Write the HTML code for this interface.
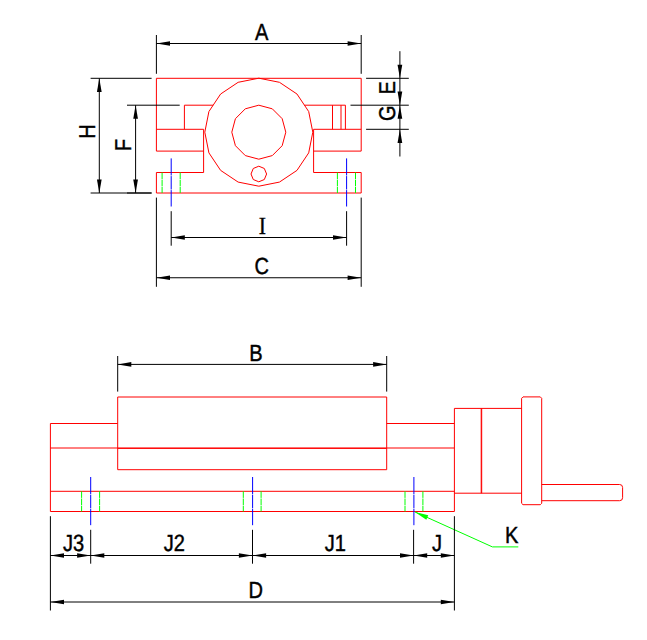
<!DOCTYPE html>
<html><head><meta charset="utf-8"><title>Vise dimensions</title>
<style>html,body{margin:0;padding:0;background:#fff;font-family:"Liberation Sans",sans-serif;}svg{display:block}</style>
</head><body>
<svg width="647" height="640" viewBox="0 0 647 640">
<rect width="647" height="640" fill="#fff"/>
<g fill="none" stroke="#ff0000" stroke-width="1">
<path d="M156.4,151.1V78.3H361.2V151.1M156.4,172.5V193.0H361.2V172.5M213.14,105.2H184.4V129.3M156.4,129.3H203.6V172.5H156.4M156.4,151.1H203.6M304.46,105.2H345.4M332.5,105.2V129.3M341.0,105.2V129.3M345.4,105.2V129.3M361.2,129.3H313.6V172.5H361.2M361.2,151.1H313.6M117.7,397.0H386.7V469.7H117.7ZM117.7,423.5H50.4V511.5H454.4M386.7,423.5H454.4M50.4,448.0H454.4M117.7,448.4H386.7M50.4,491.3H454.4M454.4,408.4V511.5M454.4,408.4H521.7M454.4,493.2H521.7M481.2,408.4V493.2M481.7,408.4V493.2M523.0,396.9H540.3000000000001L541.7,398.29999999999995V503.3L540.3000000000001,504.7H523.0L521.6,503.3V398.29999999999995ZM541.7,484.5H619.6Q622.6,484.5 622.6,487.5V497.7Q622.6,500.7 619.6,500.7H541.7"/>
<polygon points="258.80,78.20 279.46,82.31 296.98,94.02 308.69,111.54 312.80,132.20 308.69,152.86 296.98,170.38 279.46,182.09 258.80,186.20 238.14,182.09 220.62,170.38 208.91,152.86 204.80,132.20 208.91,111.54 220.62,94.02 238.14,82.31"/>
<polygon points="258.80,105.20 272.30,108.82 282.18,118.70 285.80,132.20 282.18,145.70 272.30,155.58 258.80,159.20 245.30,155.58 235.42,145.70 231.80,132.20 235.42,118.70 245.30,108.82"/>
<polygon points="258.80,166.20 264.32,168.48 266.60,174.00 264.32,179.52 258.80,181.80 253.28,179.52 251.00,174.00 253.28,168.48"/>
</g>
<path d="M162.1,172.5V193.0M180.2,172.5V193.0M337.40000000000003,172.5V193.0M355.5,172.5V193.0M81.6,491.3V511.5M99.6,491.3V511.5M243.3,491.3V511.5M261.1,491.3V511.5M405,491.3V511.5M422.9,491.3V511.5" fill="none" stroke="#00ff00" stroke-width="1" stroke-dasharray="6.6 0.6"/>
<path d="M171.2,158.4V206.5M346.6,158.4V206.5M90.7,477.0V525.2M252.6,477.0V525.2M413.9,477.0V525.2" fill="none" stroke="#0000ff" stroke-width="1" stroke-dasharray="17.1 0.6 13.4 0.6 17.5 100"/>
<path d="M414.9,511.9L492.4,546.9H518.3" stroke="#00ff00" fill="none" stroke-width="1"/><polygon points="414.90,511.90 428.26,515.36 426.33,519.64" fill="#00ff00"/>
<path d="M156.4,35V73.8M361.2,35V73.8M156.4,43.5H361.2M156.4,197.6V286.8M361.2,197.6V286.8M156.4,277.75H361.2M171.2,211.2V245.7M346.6,211.2V245.7M171.2,237.5H346.6M90.6,78.3H151.6M90.6,193.0H151.6M99.3,78.3V193.0M127,105.2H179.7M127,193.0H151.6M135.6,105.2V193.0M366.1,78.3H408.8M350.5,105.2H408.8M366.1,129.3H408.8M399.9,51.2V156.5M117.7,356V391.6M386.7,356V391.6M117.7,364.4H386.7M50.4,516.2V610.5M454.4,516.2V610.5M50.4,555.5H454.4M90.7,529.8V563.7M252.5,529.8V563.7M413.6,529.8V563.7M50.4,602.0H454.4" fill="none" stroke="#000" stroke-width="1"/>
<g><polygon points="156.40,43.50 170.00,41.15 170.00,45.85" fill="#000"/><polygon points="361.20,43.50 347.60,45.85 347.60,41.15" fill="#000"/><polygon points="156.40,277.75 170.00,275.40 170.00,280.10" fill="#000"/><polygon points="361.20,277.75 347.60,280.10 347.60,275.40" fill="#000"/><polygon points="171.20,237.50 184.80,235.15 184.80,239.85" fill="#000"/><polygon points="346.60,237.50 333.00,239.85 333.00,235.15" fill="#000"/><polygon points="99.30,78.30 101.65,91.90 96.95,91.90" fill="#000"/><polygon points="99.30,193.00 96.95,179.40 101.65,179.40" fill="#000"/><polygon points="135.60,105.20 137.95,118.80 133.25,118.80" fill="#000"/><polygon points="135.60,193.00 133.25,179.40 137.95,179.40" fill="#000"/><polygon points="399.90,78.30 397.55,64.70 402.25,64.70" fill="#000"/><polygon points="399.90,105.20 397.55,91.60 402.25,91.60" fill="#000"/><polygon points="399.90,105.20 402.25,118.80 397.55,118.80" fill="#000"/><polygon points="399.90,129.30 402.25,142.90 397.55,142.90" fill="#000"/><polygon points="117.70,364.40 131.30,362.05 131.30,366.75" fill="#000"/><polygon points="386.70,364.40 373.10,366.75 373.10,362.05" fill="#000"/><polygon points="50.40,555.50 64.00,553.15 64.00,557.85" fill="#000"/><polygon points="90.70,555.50 77.10,557.85 77.10,553.15" fill="#000"/><polygon points="90.70,555.50 104.30,553.15 104.30,557.85" fill="#000"/><polygon points="252.50,555.50 238.90,557.85 238.90,553.15" fill="#000"/><polygon points="252.50,555.50 266.10,553.15 266.10,557.85" fill="#000"/><polygon points="413.60,555.50 400.00,557.85 400.00,553.15" fill="#000"/><polygon points="413.60,555.50 427.20,553.15 427.20,557.85" fill="#000"/><polygon points="454.40,555.50 440.80,557.85 440.80,553.15" fill="#000"/><polygon points="50.40,602.00 64.00,599.65 64.00,604.35" fill="#000"/><polygon points="454.40,602.00 440.80,604.35 440.80,599.65" fill="#000"/></g>
<g style="text-rendering:geometricPrecision" font-family="Liberation Sans, sans-serif" font-size="23.4" fill="#000" stroke="#000" stroke-width="0.45">
<text transform="translate(261.6,39.7) scale(0.857,1)" text-anchor="middle">A</text>
<text transform="translate(261.7,273.9) scale(0.857,1)" text-anchor="middle">C</text>
<text font-family="Liberation Serif, serif" font-size="24.6" stroke-width="0.35" transform="translate(262.35,233.6) scale(0.88,1)" text-anchor="middle">I</text>
<text font-size="22.8" transform="translate(94.6,131.5) rotate(-90) scale(0.88,1)" text-anchor="middle">H</text>
<text font-size="22.8" transform="translate(130.9,145.2) rotate(-90) scale(0.88,1)" text-anchor="middle">F</text>
<text font-size="22.8" transform="translate(395.2,87.8) rotate(-90) scale(0.88,1)" text-anchor="middle">E</text>
<text font-size="22.8" transform="translate(394.7,113.3) rotate(-90) scale(0.88,1)" text-anchor="middle">G</text>
<text transform="translate(256,361.0) scale(0.857,1)" text-anchor="middle">B</text>
<text transform="translate(255.7,597.8) scale(0.857,1)" text-anchor="middle">D</text>
<text transform="translate(73.6,550.6) scale(0.857,1)" text-anchor="middle">J3</text>
<text transform="translate(174.4,550.6) scale(0.857,1)" text-anchor="middle">J2</text>
<text transform="translate(335.4,550.6) scale(0.857,1)" text-anchor="middle">J1</text>
<text transform="translate(437.0,550.6) scale(0.857,1)" text-anchor="middle">J</text>
<text transform="translate(511.6,543.3) scale(0.857,1)" text-anchor="middle">K</text>
</g>
</svg>
</body></html>
